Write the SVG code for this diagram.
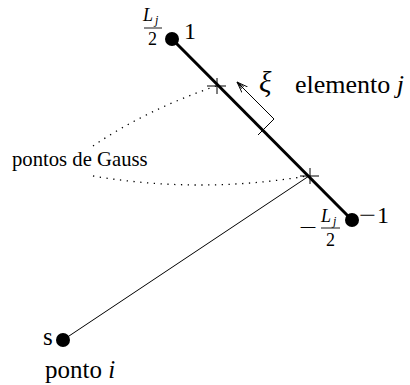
<svg xmlns="http://www.w3.org/2000/svg" width="410" height="385" viewBox="0 0 410 385">
<style>
text{font-family:"Liberation Serif","Times New Roman",serif;fill:#000}
.it{font-style:italic}
.thin{stroke:#000;stroke-width:1;fill:none}
.dot{stroke:#000;stroke-width:1.3;fill:none;stroke-dasharray:1.3 5.5}
.bar{stroke:#000;stroke-width:0.9}
</style>
<defs>
<marker id="arr" viewBox="0 0 12 10" refX="11" refY="5" markerWidth="12" markerHeight="10" markerUnits="userSpaceOnUse" orient="auto">
<path d="M0,1 L11,5 L0,9 M3,3.5 L11,5 L3,6.5" fill="none" stroke="#000" stroke-width="0.9"/>
</marker>
</defs>
<g id="connectors">
<line x1="172" y1="39" x2="352" y2="220" stroke="#000" stroke-width="3"/>
<line class="thin" x1="63" y1="340" x2="309" y2="176"/>
<path class="dot" d="M93,146 Q146,110 216,86"/>
<path class="dot" d="M93,176 Q200,194 307,176"/>
<path class="thin" d="M258,135 L274,119 L237,82" marker-end="url(#arr)"/>
</g>
<g id="gauss1"><path class="thin" d="M207,86 H226 M217,78 V94"/></g>
<g id="gauss2"><path class="thin" d="M300,176 H319 M310,168 V184"/></g>
<g id="node1">
<circle cx="172" cy="39" r="7"/>
<text x="184" y="39" font-size="24">1</text>
<text x="143" y="21" font-size="18" class="it">L</text>
<text x="155" y="24" font-size="12" class="it">j</text>
<line class="bar" x1="144" y1="28" x2="162" y2="28"/>
<text x="148" y="45" font-size="18">2</text>
</g>
<g id="node2">
<circle cx="352" cy="220" r="7"/>
<text x="359" y="223" font-size="24" textLength="17" lengthAdjust="spacingAndGlyphs">−</text>
<text x="377" y="223" font-size="24">1</text>
<text x="299" y="234" font-size="20" textLength="18" lengthAdjust="spacingAndGlyphs">−</text>
<text x="321" y="222" font-size="18" class="it">L</text>
<text x="333" y="225" font-size="12" class="it">j</text>
<line class="bar" x1="321" y1="228" x2="340" y2="228"/>
<text x="326" y="246" font-size="18">2</text>
</g>
<g id="pointi">
<circle cx="63" cy="340" r="7"/>
<text x="43" y="345" font-size="25">s</text>
<text x="45" y="378" font-size="25">ponto <tspan class="it">i</tspan></text>
</g>
<g id="labels">
<text x="259" y="92" font-size="29" class="it">ξ</text>
<text x="295" y="93" font-size="26">elemento <tspan class="it">j</tspan></text>
<text x="12" y="166" font-size="20.7">pontos de Gauss</text>
</g>
</svg>
